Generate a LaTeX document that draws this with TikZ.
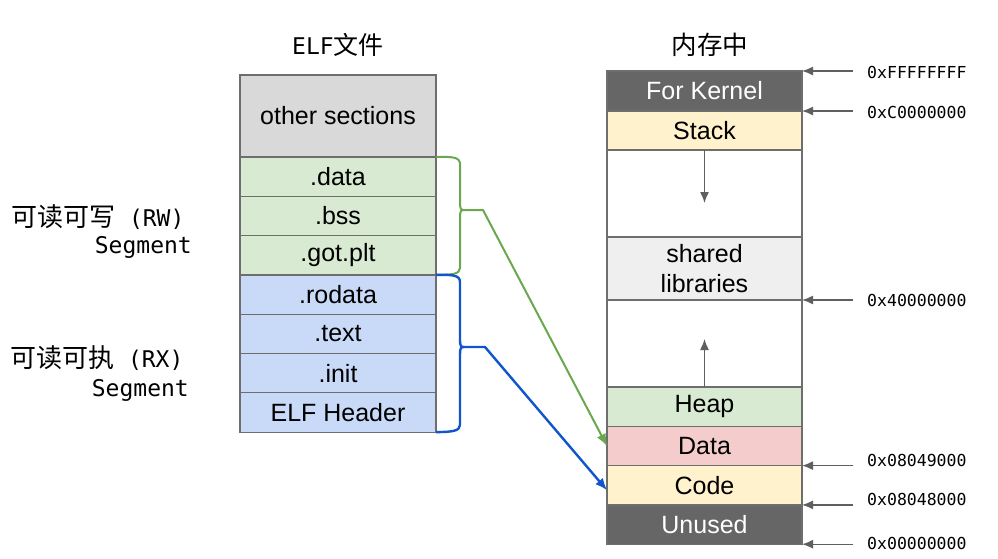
\documentclass[tikz,border=0pt]{standalone}
\usepackage{fontspec}
\setmainfont{Liberation Sans}
\newfontfamily\cjk{Noto Sans CJK SC}
\newfontfamily\mono{DejaVu Sans Mono}
\usetikzlibrary{arrows.meta}

\definecolor{boxline}{HTML}{6E6E6E}
\definecolor{othergray}{HTML}{D9D9D9}
\definecolor{rwgreen}{HTML}{D9EAD3}
\definecolor{rxblue}{HTML}{C9DAF8}
\definecolor{kernelgray}{HTML}{666666}
\definecolor{stackyellow}{HTML}{FFF2CC}
\definecolor{libgray}{HTML}{EFEFEF}
\definecolor{datared}{HTML}{F4CCCC}
\definecolor{bracegreen}{HTML}{6AA84F}
\definecolor{braceblue}{HTML}{1155CC}
\definecolor{arrowgray}{HTML}{5F5F5F}

\begin{document}
\begin{tikzpicture}[x=1pt,y=-1pt]

\tikzstyle{every node}=[font=\fontsize{25}{30}\selectfont]
\tikzstyle{sect}=[draw=boxline, line width=1.2pt, minimum width=196pt, minimum height=39.3pt, inner sep=0pt, outer sep=0pt]
\tikzstyle{mem}=[sect, minimum width=195pt]
\tikzstyle{addr}=[font=\mono\fontsize{16.5}{20}\selectfont, anchor=west, inner sep=0pt]
\tikzstyle{segtext}=[font=\fontsize{23}{28}\selectfont, inner sep=0pt]
\tikzstyle{addrarrow}=[->, >={Latex[length=11pt,width=9pt]}, arrowgray, line width=1.4pt]

\useasboundingbox (0,0) rectangle (998,558);

% ELF file side
\pgfmathsetmacro\x{338}
\pgfmathsetmacro\h{39.3}

\node[segtext] (elf_title) at (\x,45) {{\mono ELF}{\cjk\fontsize{25}{30}\selectfont 文件}};

\pgfmathsetmacro\y{116}
\node[sect, fill=othergray, minimum height=82pt] (other) at (\x,\y) {other sections};

\pgfmathsetmacro\y{157+\h/2}
\node[sect, fill=rwgreen] (data_sec) at (\x,\y) {.data};
\pgfmathsetmacro\y{\y+\h}
\node[sect, fill=rwgreen] (bss) at (\x,\y) {.bss};
\pgfmathsetmacro\y{\y+\h}
\node[sect, fill=rwgreen] (gotplt) at (\x,\y) {.got.plt};
\pgfmathsetmacro\y{\y+\h}
\node[sect, fill=rxblue] (rodata) at (\x,\y) {.rodata};
\pgfmathsetmacro\y{\y+\h}
\node[sect, fill=rxblue] (text_sec) at (\x,\y) {.text};
\pgfmathsetmacro\y{\y+\h}
\node[sect, fill=rxblue] (init) at (\x,\y) {.init};
\pgfmathsetmacro\y{\y+\h}
\node[sect, fill=rxblue] (elf_header) at (\x,\y) {ELF Header};

\node[segtext, anchor=west] (rw_name) at (11,217) {{\cjk\fontsize{26}{30}\selectfont 可读可写}{\mono\ (RW)}};
\node[segtext, anchor=east] (rw_seg) at (192,247) {\mono Segment};
\node[segtext, anchor=west] (rx_name) at (10,358) {{\cjk\fontsize{26}{30}\selectfont 可读可执}{\mono\ (RX)}};
\node[segtext, anchor=east] (rx_seg) at (189,390) {\mono Segment};

% memory side
\pgfmathsetmacro\x{704.5}

\node[segtext] (mem_title) at (710,45) {\cjk\fontsize{25.5}{30}\selectfont 内存中};

\node[mem, fill=kernelgray, text=white, minimum height=40pt] (kernel) at (\x,91) {For Kernel};
\node[mem, fill=stackyellow, minimum height=39pt] (stack) at (\x,130.5) {Stack};
\node[mem, fill=white, minimum height=87pt] (gap_top) at (\x,193.5) {};
\node[mem, fill=libgray, minimum height=63pt, align=center] (shared) at (\x,268.5) {shared\\libraries};
\node[mem, fill=white, minimum height=87pt] (gap_bottom) at (\x,343.5) {};
\node[mem, fill=rwgreen] (heap) at (\x,406.65) {Heap};
\node[mem, fill=datared] (data_mem) at (\x,445.95) {Data};
\node[mem, fill=stackyellow] (code) at (\x,485.25) {Code};
\node[mem, fill=kernelgray, text=white] (unused) at (\x,524.55) {Unused};

\coordinate (stack_grow) at (\x,203);
\coordinate (heap_grow) at (\x,339);
\draw[addrarrow] (stack.south) -- (stack_grow);
\draw[addrarrow] (heap.north) -- (heap_grow);

% addresses
\node[addr] (a_ffff) at (867,72) {0xFFFFFFFF};
\node[addr] (a_c000) at (867,112) {0xC0000000};
\node[addr] (a_4000) at (867,300.5) {0x40000000};
\node[addr] (a_8049) at (867,460) {0x08049000};
\node[addr] (a_8048) at (867,499) {0x08048000};
\node[addr] (a_0000) at (867,543) {0x00000000};

\draw[addrarrow] ([xshift=-14pt]a_ffff.west |- kernel.north east) -- (kernel.north east);
\draw[addrarrow] ([xshift=-14pt]a_c000.west |- kernel.south east) -- (kernel.south east);
\draw[addrarrow] ([xshift=-14pt]a_4000.west |- shared.south east) -- (shared.south east);
\draw[addrarrow] ([xshift=-14pt]a_8049.west |- data_mem.south east) -- (data_mem.south east);
\draw[addrarrow] ([xshift=-14pt]a_8048.west |- code.south east) -- (code.south east);
\draw[addrarrow] ([xshift=-14pt]a_0000.west |- unused.south east) -- (unused.south east);

% braces and mapping
\coordinate (rw_tip) at (464,210);
\coordinate (rx_tip) at (464,347);

\draw[bracegreen, line width=2pt, line join=round]
  (data_sec.north east) .. controls (452,156.5) and (460,157) .. (460,164)
  -- (460,203) .. controls (460,209) and (461,210) .. (rw_tip)
  .. controls (461,210) and (460,211) .. (460,217)
  -- (460,268) .. controls (460,274) and (452,275) .. (gotplt.south east);
\draw[->, >={Latex[length=12pt,width=10pt]}, bracegreen, line width=2pt, line join=round]
  (rw_tip) -- ++(19,0) -- (data_mem.west);

\draw[braceblue, line width=2.4pt, line join=round]
  (rodata.north east) .. controls (452,274.5) and (460,275) .. (460,282)
  -- (460,340) .. controls (460,346) and (461,347) .. (rx_tip)
  .. controls (461,347) and (460,348) .. (460,354)
  -- (460,425) .. controls (460,431) and (452,432) .. (elf_header.south east);
\draw[->, >={Latex[length=12pt,width=10pt]}, braceblue, line width=2.4pt, line join=round]
  (rx_tip) -- ++(21,0) -- ([yshift=-5pt]code.west);

\end{tikzpicture}
\end{document}
